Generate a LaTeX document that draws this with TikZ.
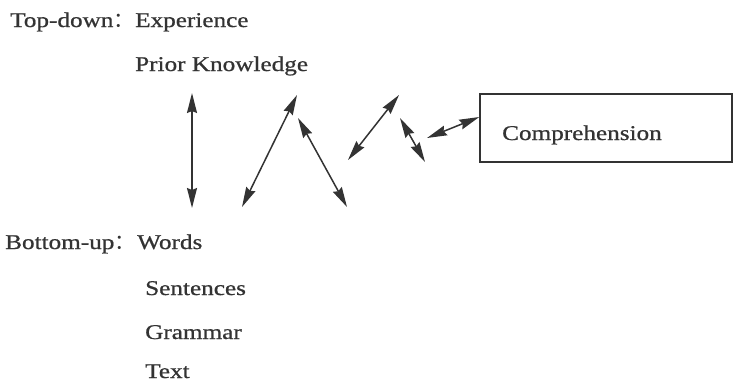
\documentclass[tikz,border=0pt]{standalone}
\usepackage{fontspec}
\setmainfont{Liberation Serif}[FakeStretch=1.2,FakeBold=0.8]
\newfontfamily\cjk{Noto Sans CJK SC}
\usetikzlibrary{arrows.meta}

\definecolor{ink}{HTML}{333333}

\begin{document}
\begin{tikzpicture}[x=1pt,y=-1pt,
    txt/.style={anchor=base west,inner sep=0pt,text=ink,font=\fontsize{21}{24}\selectfont},
    link/.style={draw=ink,line width=1.5pt,{Stealth[length=20pt,width=10pt,inset=2pt]}-{Stealth[length=20pt,width=10pt,inset=2pt]}}]
    \useasboundingbox (0,0) rectangle (735,384);

    % Top-down
    \node[txt] (td) at (10,27) {Top-down{\cjk ：}};
    \node[txt] (exp) at (135,27) {Experience};
    \node[txt] (pk) at (135,71) {Prior Knowledge};

    % Bottom-up
    \node[txt] (bu) at (5,249) {Bottom-up{\cjk ：}};
    \node[txt] (wd) at (137,249) {Words};
    \node[txt] (sn) at (145,295) {Sentences};
    \node[txt] (gr) at (145,339) {Grammar};
    \node[txt] (tx) at (145,378) {Text};

    % box on the right
    \node[draw=ink,line width=1.5pt,minimum width=252pt,minimum height=68pt,
          inner sep=0pt] (cmp) at (606,128) {};
    \node[txt] (cmpt) at (502,140) {Comprehension};

    % arrow ends
    \coordinate (a1) at (192,93);  \coordinate (b1) at (192,208);
    \coordinate (a2) at (242,207); \coordinate (b2) at (297,95);
    \coordinate (a3) at (298,118); \coordinate (b3) at (347,207);
    \coordinate (a4) at (348,160); \coordinate (b4) at (399,95);
    \coordinate (a5) at (400,118); \coordinate (b5) at (425,162);
    \coordinate (a6) at (427,138); \coordinate (b6) at (cmp.west|-0,117);

    % Arrows
    \draw[link] (a1) -- (b1);
    \draw[link] (a2) -- (b2);
    \draw[link] (a3) -- (b3);
    \draw[link] (a4) -- (b4);
    \draw[link] (a5) -- (b5);
    \draw[link] (a6) -- (b6);
\end{tikzpicture}
\end{document}
